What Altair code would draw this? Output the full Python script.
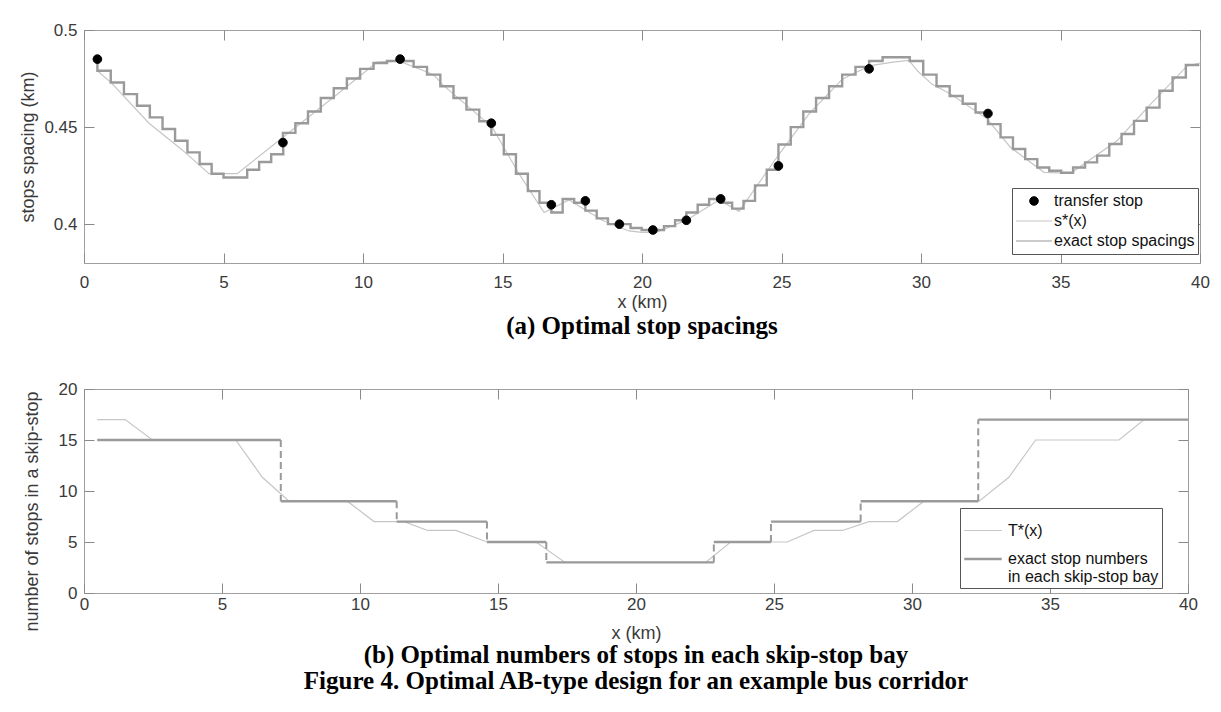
import altair as alt
import pandas as pd

# ---------------- data ----------------
# (a) transfer stops
transfer_x = [0.48, 7.13, 11.33, 14.60, 16.75, 17.97, 19.19, 20.39, 21.59, 22.82, 24.89, 28.14, 32.40]
transfer_y = [0.485, 0.442, 0.485, 0.452, 0.410, 0.412, 0.400, 0.397, 0.402, 0.413, 0.430, 0.480, 0.457]

# (a) exact stop spacings, one list per skip-stop unit (between transfer stops)
unit_spacings = [
    [0.479, 0.473, 0.467, 0.461, 0.455, 0.449, 0.443, 0.437, 0.431, 0.426, 0.424, 0.424, 0.428, 0.432, 0.436],
    [0.447, 0.452, 0.458, 0.465, 0.470, 0.475, 0.480, 0.483, 0.484],
    [0.484, 0.481, 0.477, 0.471, 0.465, 0.459, 0.453],
    [0.446, 0.436, 0.426, 0.417, 0.411],
    [0.406, 0.413, 0.411],
    [0.407, 0.403, 0.400],
    [0.400, 0.398, 0.397],
    [0.397, 0.399, 0.402],
    [0.406, 0.410, 0.413],
    [0.411, 0.408, 0.412, 0.420, 0.428],
    [0.441, 0.450, 0.458, 0.465, 0.471, 0.477, 0.481],
    [0.484, 0.486, 0.486, 0.484, 0.477, 0.471, 0.466, 0.462, 0.4575],
    [0.4515, 0.4447, 0.4387, 0.4335, 0.4292, 0.4275, 0.4265, 0.4292, 0.4318, 0.4353,
     0.4413, 0.4464, 0.4532, 0.4600, 0.4687, 0.4755, 0.4820],
]

# (a) optimal continuous spacing s*(x)
s_x = [0.48, 1.0, 2.33, 3.5, 4.48, 5.49, 7.11, 9.0, 10.33, 10.5, 11.3, 12.36, 12.6, 12.84,
       14.63, 15.59, 16.49, 17.38, 18.58, 19.53, 20.0, 20.5, 21.56, 22.76, 23.48, 24.91,
       26.0, 27.18, 28.14, 29.0, 29.57, 29.87, 30.4, 31.06, 32.38, 33.21, 34.41, 35.36,
       37.03, 38.23, 39.54, 40.0]
s_y = [0.479, 0.4725, 0.452, 0.4385, 0.426, 0.426, 0.4445, 0.466, 0.4815, 0.4835, 0.484, 0.478,
       0.476, 0.472, 0.450, 0.426, 0.406, 0.4125, 0.402, 0.3965, 0.3958, 0.3958, 0.4018, 0.4125,
       0.4066, 0.436, 0.457, 0.4747, 0.4815, 0.4835, 0.4844, 0.479, 0.472, 0.467, 0.4541,
       0.4395, 0.4267, 0.4262, 0.443, 0.4618, 0.4815, 0.483]

# (b) exact stop numbers in each skip-stop bay
bay_start = [0.48, 7.13, 11.33, 14.60, 16.75, 22.82, 24.89, 28.14, 32.40]
bay_end = [7.13, 11.33, 14.60, 16.75, 22.82, 24.89, 28.14, 32.40, 40.0]
bay_stops = [15, 9, 7, 5, 3, 5, 7, 9, 17]

# (b) T*(x)
t_x = [0.48, 1.49, 2.48, 5.50, 6.46, 7.43, 9.54, 10.51, 11.60, 12.45, 13.47, 14.61, 16.38, 17.43,
       22.52, 23.43, 25.48, 26.45, 27.48, 28.44, 29.47, 30.43, 32.43, 33.51, 34.48, 37.50, 38.41, 40.0]
t_y = [17, 17, 15, 15, 11.35, 9.0, 9.0, 7.0, 7.0, 6.13, 6.13, 5.0, 5.0, 3.0,
       3.0, 5.0, 5.0, 6.13, 6.13, 7.0, 7.0, 9.0, 9.0, 11.35, 15.0, 15.0, 17.0, 17.0]

series_a = ["transfer stop", "s*(x)", "exact stop spacings"]
series_b = ["T*(x)", "exact stop numbers|in each skip-stop bay"]

# ---------------- tables ----------------
rows = []
i = 0
for k, sp in enumerate(unit_spacings):
    pos = transfer_x[k]
    rows.append(dict(i=i, x=pos, y=transfer_y[k])); i += 1
    for v in sp:
        rows.append(dict(i=i, x=pos, y=v)); i += 1
        pos = min(pos + v, 40.0)
        rows.append(dict(i=i, x=pos, y=v)); i += 1
step_df = pd.DataFrame(rows)
dot_df = pd.DataFrame({"x": transfer_x, "y": transfer_y, "series": series_a[0]})
s_df = pd.DataFrame({"x": s_x, "y": s_y})

t_df = pd.DataFrame({"x": t_x, "y": t_y, "series": series_b[0]})
bay_df = pd.DataFrame({"x1": bay_start, "x2": bay_end, "n": bay_stops, "series": series_b[1]})
jump_df = pd.DataFrame({"x": bay_end[:-1], "n1": bay_stops[:-1], "n2": bay_stops[1:]})

# ---------------- styling ----------------
FONT = "Liberation Sans"
SERIF = "Liberation Serif"
LAB = "#3a3a3a"
TICK = "#8a8a8a"
LIGHT = "#c6c6c6"
DARK = "#9a9a9a"
SYM = 1300
DOT_PATH = "M -0.24 0 A 0.24 0.24 0 1 0 0.24 0 A 0.24 0.24 0 1 0 -0.24 0 Z"
xvals = list(range(0, 41, 5))


def ax(orient, values, labels=True, title=None, lpad=6, fmt=None, tpad=4, **kw):
    d = dict(orient=orient, values=values, tickSize=10, offset=-10, domain=False, grid=False,
             ticks=True, tickColor=TICK, tickWidth=1, labels=labels, labelFont=FONT,
             labelFontSize=17, labelColor=LAB, labelPadding=lpad, labelFlush=False,
             labelOverlap=False, titleFont=FONT, titleFontSize=18, titleFontWeight="normal",
             titleColor=LAB, titlePadding=tpad, title=title)
    if fmt:
        d["format"] = fmt
    d.update(kw)
    return alt.Axis(**d)


xs = alt.Scale(domain=[0, 40], nice=False, zero=False)
ys_a = alt.Scale(domain=[0.38, 0.5], nice=False, zero=False)
ys_b = alt.Scale(domain=[0, 20], nice=False, zero=False)
yv_a = [0.4, 0.45, 0.5]
yv_b = [0, 5, 10, 15, 20]

# ---------------- (a) ----------------
s_line = alt.Chart(s_df).mark_line(color=LIGHT, strokeWidth=1.2).encode(
    x=alt.X("x:Q", scale=xs, axis=ax("bottom", xvals, title="x (km)", lpad=11, tpad=3)),
    y=alt.Y("y:Q", scale=ys_a, axis=ax("left", yv_a, title="stops spacing (km)", lpad=7, fmt=".2~f", tpad=6)),
)
step_line = alt.Chart(step_df).mark_line(color=DARK, strokeWidth=2.4).encode(
    x=alt.X("x:Q", scale=xs, axis=ax("top", xvals, labels=False)),
    y=alt.Y("y:Q", scale=ys_a, axis=ax("right", yv_a, labels=False)),
    order="i:Q",
)
leg_a = alt.Legend(orient="none", legendX=928, legendY=158, title=None, labelFont=FONT,
                   labelFontSize=16, labelColor="#111", clipHeight=20, rowPadding=0, padding=3,
                   strokeColor="#555", fillColor="white", labelOffset=1, labelLimit=300,
                   symbolSize=SYM)
dots = alt.Chart(dot_df).mark_point(filled=False, fill="black", opacity=1, size=SYM).encode(
    x=alt.X("x:Q", scale=xs, axis=None),
    y=alt.Y("y:Q", scale=ys_a, axis=None),
    color=alt.Color("series:N", scale=alt.Scale(domain=series_a, range=["black", LIGHT, DARK]), legend=leg_a),
    shape=alt.Shape("series:N", scale=alt.Scale(domain=series_a, range=[DOT_PATH, "stroke", "stroke"]), legend=leg_a),
    strokeWidth=alt.StrokeWidth("series:N", scale=alt.Scale(domain=series_a, range=[1, 1.2, 2.4]), legend=leg_a),
)
top = alt.layer(s_line, step_line, dots).resolve_axis(x="independent", y="independent").properties(
    width=1116, height=233,
    title=alt.TitleParams("(a) Optimal stop spacings", orient="bottom", font=SERIF, fontSize=25,
                          fontWeight="bold", color="black", offset=3, anchor="middle"),
)

# ---------------- (b) ----------------
leg_b = alt.Legend(orient="none", legendX=876, legendY=119, title=None, labelFont=FONT,
                   labelFontSize=16, labelColor="#111", padding=3, strokeColor="#555",
                   fillColor="white", labelOffset=5, labelLimit=300, symbolType="stroke",
                   symbolSize=1400, rowPadding=0, labelExpr="split(datum.label, '|')")
stroke_b = alt.Stroke("series:N", scale=alt.Scale(domain=series_b, range=[LIGHT, DARK]), legend=leg_b)
sw_b = alt.StrokeWidth("series:N", scale=alt.Scale(domain=series_b, range=[1.2, 2.4]), legend=leg_b)

t_line = alt.Chart(t_df).mark_line().encode(
    x=alt.X("x:Q", scale=xs, axis=ax("bottom", xvals, title="x (km)", lpad=3, tpad=12)),
    y=alt.Y("y:Q", scale=ys_b, axis=ax("left", yv_b, title="number of stops in a skip-stop", lpad=7, tpad=17, titleY=122)),
    stroke=stroke_b, strokeWidth=sw_b,
)
bays = alt.Chart(bay_df).mark_rule().encode(
    x=alt.X("x1:Q", scale=xs, axis=ax("top", xvals, labels=False)),
    x2="x2:Q",
    y=alt.Y("n:Q", scale=ys_b, axis=ax("right", yv_b, labels=False)),
    stroke=stroke_b, strokeWidth=sw_b,
)
jumps = alt.Chart(jump_df).mark_rule(color=DARK, strokeWidth=2, strokeDash=[7, 4]).encode(
    x=alt.X("x:Q", scale=xs, axis=None),
    y=alt.Y("n1:Q", scale=ys_b, axis=None),
    y2="n2:Q",
)
bottom = alt.layer(t_line, bays, jumps).resolve_axis(x="independent", y="independent").properties(
    width=1104, height=204,
    title=alt.TitleParams(["(b) Optimal numbers of stops in each skip-stop bay",
                           "Figure 4. Optimal AB-type design for an example bus corridor"],
                          orient="bottom", font=SERIF, fontSize=25, fontWeight="bold",
                          color="black", offset=1, anchor="middle", lineHeight=26),
)

chart = alt.vconcat(top, bottom, spacing=126, bounds="flush").properties(
    padding={"left": 19, "top": 20, "right": 5, "bottom": 5},
    background="white",
).configure_view(stroke="#a0a0a0", strokeWidth=1).resolve_scale(
    color="independent", stroke="independent", strokeWidth="independent", shape="independent")

chart.save("out.html", embed_options={"renderer": "svg", "actions": False})
